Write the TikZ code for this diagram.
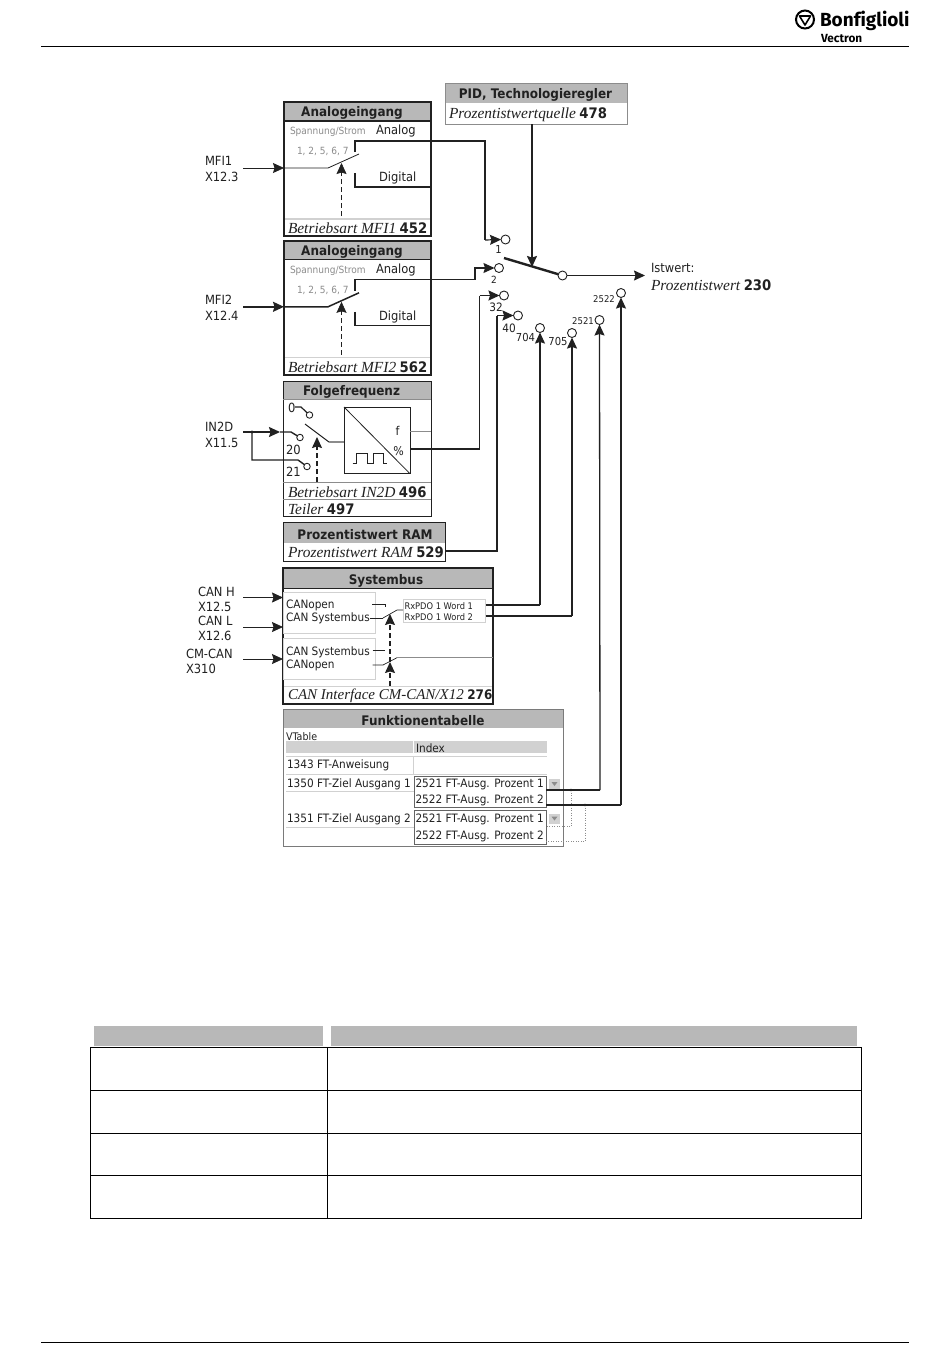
\documentclass[tikz,border=0pt]{standalone}
\usepackage{fontspec}
\setmainfont[Scale=1.1,FakeStretch=0.91]{DejaVu Sans}
\newfontfamily\tim{Liberation Serif}
\newfontfamily\logof{Fira Sans}
\usetikzlibrary{arrows.meta,calc}
\definecolor{hdr}{gray}{0.72}
\definecolor{ink}{gray}{0.13}
\definecolor{lite}{gray}{0.82}
\definecolor{mid}{gray}{0.55}
\newcounter{tn}
\newcommand\tl[4][]{\stepcounter{tn}\node[lbl,#1] (t\thetn) at (#2,#3) {#4};}
\newcommand\fs[1]{\fontsize{#1}{#1}\selectfont}
\newcommand\itt[1]{{\tim\itshape\fs{15.4}#1}}
\newcommand\nb[1]{{\bfseries\fs{13.2}#1}}
\tikzset{
 lbl/.style={anchor=west,inner sep=0pt,outer sep=0pt,text=ink,font=\fs{11},yshift=-.8pt},
 ctr/.style={anchor=center},
 box/.style={draw=ink,line width=1pt,anchor=north west,inner sep=0pt,outer sep=0pt},
 hbox/.style={box,line width=1.6pt},
 greybox/.style={draw=mid,line width=1pt,anchor=north west,inner sep=0pt,outer sep=0pt},
 head/.style={fill=hdr,draw=none,anchor=north west,inner sep=0pt,outer sep=0pt},
 title/.style={lbl,ctr,font=\bfseries\fs{12}},
 wire/.style={draw=ink,line width=1.2pt},
 fwire/.style={wire,line width=1.5pt},
 arr/.style={-{Stealth[length=11pt,width=10pt,inset=1.5pt]}},
 dsh/.style={draw=ink,line width=.8pt,dash pattern=on 5pt off 3pt},
 dot/.style={draw=mid,line width=.7pt,dash pattern=on 1pt off 1.5pt},
 term/.style={circle,draw=ink,line width=.9pt,fill=white,minimum size=9pt,inner sep=0pt,outer sep=0pt},
 sterm/.style={term,minimum size=6.5pt},
 rule/.style={draw=black,line width=.8pt},
 lrule/.style={draw=lite,line width=.8pt},
}
\begin{document}
\begin{tikzpicture}[x=1pt,y=-1pt]
\useasboundingbox (0,0) rectangle (950,1369);
\fill[white] (0,0) rectangle (950,1369);
% page furniture
\coordinate (r1a) at (41,46); \coordinate (r1b) at (909,46);
\coordinate (r2a) at (41,1342); \coordinate (r2b) at (909,1342);
\draw[rule] (r1a)--(r1b); \draw[rule] (r2a)--(r2b);
\node[circle,draw=black,line width=2pt,minimum size=18pt,inner sep=0pt] (logo) at (805,19.5) {};
\draw[black,line width=1.6pt,line join=round] (799.5,16) -- (810.5,16) -- (805,25) -- cycle;
\tl{820}{20}{\logof\bfseries\fs{19}\textcolor{black}{Bonf\kern0pt iglioli}}
\tl{821}{37.5}{\logof\bfseries\fs{11.8}\textcolor{black}{Vectron}}

% table at the bottom
\node[head,minimum width=229pt,minimum height=20pt] (th1) at (94,1026) {};
\node[head,minimum width=526pt,minimum height=20pt] (th2) at (331,1026) {};
\foreach \i/\a/\b in {1/1047/43,2/1090/43,3/1133/42,4/1175/43}{
 \node[draw=black,line width=1pt,anchor=north west,minimum width=237pt,minimum height=\b pt,inner sep=0pt,outer sep=0pt] (tc\i) at (90,\a) {};
 \node[draw=black,line width=1pt,anchor=north west,minimum width=534pt,minimum height=\b pt,inner sep=0pt,outer sep=0pt] (td\i) at (327,\a) {};
}

% PID
\node[greybox,minimum width=182pt,minimum height=41pt] (pid) at (445,83) {};
\node[head,minimum width=181pt,minimum height=19pt] (pidh) at (445.5,83.5) {};
\draw[mid,line width=1pt] (445,83)--(627,83);
\tl[title]{535.5}{93}{PID, Technologieregler}
\tl{449}{113.5}{\itt{Prozentistwertquelle} \nb{478}}

% terminals
\node[term] (c1) at (505.5,239.5) {};
\node[term] (c2) at (499,268) {};
\node[term] (c32) at (504,295.5) {};
\node[term] (c40) at (518,315.5) {};
\node[term] (c704) at (540,328) {};
\node[term] (c705) at (572,333) {};
\node[term] (c2521) at (599.5,320) {};
\node[term] (c2522) at (621,293) {};
\tl[ctr]{498.5}{249}{\fs{10}1}
\tl[ctr]{494}{279}{\fs{9}2}
\tl[ctr]{496}{306}{\fs{10.5}32}
\tl[ctr]{509}{327}{\fs{10.5}40}
\tl[ctr]{525.5}{337}{\fs{10}704}
\tl[ctr]{558}{341}{\fs{10}705}
\tl[ctr]{583}{320}{\fs{8.5}2521}
\tl[ctr]{604}{298}{\fs{8.5}2522}
% main switch
\coordinate (swa) at (504,258);
\node[term] (cout) at (562.5,275.5) {};
\draw[draw=ink,line width=2.4pt] (swa)--(cout);
\draw[fwire,line width=1.5pt,arr] (pid.south -| 532,0) -- (532,267);
\coordinate (ist) at (645,275.5);
\draw[wire,arr] (cout)--(ist);
\tl{651}{267}{\fs{11.5}Istwert:}
\tl{651}{284}{\itt{Prozentistwert} \nb{230}}

% Analogeingang 1 and 2
\foreach \n/\dy/\pn/\inp/\xp/\lw in {a/0/452/MFI1/X12.3/.8pt,b/138.8/562/MFI2/X12.4/1.5pt}{
 \begin{scope}[shift={(0,\dy)}]
 \node[hbox,minimum width=147pt,minimum height=134pt] (\n box) at (284,102) {};
 \node[head,minimum width=146pt,minimum height=19pt] (\n hd) at (284.5,102.5) {};
 \draw[ink,line width=1.6pt] (284,102) rectangle (431,236);
 \draw[ink,line width=1.2pt] (284,121)--(431,121);
 \draw[lite,line width=1.2pt] (285,219)--(430,219);
 \tl[title]{352}{111.5}{Analogeingang}
 \tl{290}{131}{\fs{9}\textcolor{mid}{Spannung/Strom}}
 \tl{376}{130.5}{\fs{11.5}Analog}
 \tl{297}{151}{\fs{9}\textcolor{mid}{1, 2, 5, 6, 7}}
 \tl{379}{177.5}{\fs{11.5}Digital}
 \tl{288}{227.5}{\itt{Betriebsart \inp} \nb{\pn}}
 \tl{205}{160}{\fs{11.5}\inp}
 \tl{205}{176}{\fs{11.5}\xp}
 \coordinate (\n in) at (243,168);
 \coordinate (\n sw) at (328,168);
 \coordinate (\n sx) at (359,154);
 \draw[wire,line width=\lw,arr] (\n in)--(284,168);
 \draw[wire,line width=\lw] (284,168)--(\n sw)--(\n sx);
 \draw[wire] (355,152)--(355,141)--(431,141);
 \draw[wire] (355,173)--(355,187)--(431,187);
 \coordinate (\n ds) at (341.5,216);
 \draw[dsh,arr,line width=.7pt] (\n ds)--(341.5,163);
 \end{scope}
}
\draw[wire] (431,141)--(485,141)--(485,240);
\draw[wire,arr] (485,240)--(c1.west);
\draw[wire,arr] (431,279.8)--(475,279.8)--(475,268)--(c2.west);

% Folgefrequenz
\node[box,minimum width=148pt,minimum height=135pt] (ff) at (283,381) {};
\node[head,minimum width=147pt,minimum height=18pt] (ffh) at (283.5,381.5) {};
\draw[ink,line width=1pt] (283,381) rectangle (431,516);
\draw[mid,line width=1pt] (283,399)--(431,399);
\draw[mid,line width=.7pt] (283,482.7)--(431,482.7);
\draw[mid,line width=.7pt] (283,499.7)--(431,499.7);
\tl[title]{351.5}{390.5}{Folgefrequenz}
\tl{288}{407.5}{\fs{11.5}0}
\tl{286}{449.5}{\fs{11.5}20}
\tl{286}{471}{\fs{11.5}21}
\node[sterm] (f0) at (309.5,415) {};
\node[sterm] (f20) at (300,437.5) {};
\node[sterm] (f21) at (307,466.5) {};
\draw[wire] (295,407)--(301,407)--(f0);
\node[draw=ink,line width=1pt,anchor=north west,minimum width=66pt,minimum height=66.7pt,inner sep=0pt,outer sep=0pt] (conv) at (344,407) {};
\draw[ink,line width=.8pt] (conv.north west)--(conv.south east);
\draw[ink,line width=1pt] (352.5,463.5)--(356,463.5)--(356,453.5)--(367,453.5)--(367,463.5)--(373,463.5)--(373,453.5)--(383.5,453.5)--(383.5,463.5)--(387,463.5);
\tl[ctr]{397.5}{430}{\fs{11}f}
\tl[ctr]{398.5}{450}{\fs{11}\%}
\coordinate (fsw1) at (305,424);
\coordinate (fsw2) at (329,442);
\draw[wire,line width=1pt] (fsw1)--(fsw2);
\draw[mid,line width=1.5pt] (fsw2)--(conv.west |- fsw2);
\tl{288}{491}{\itt{Betriebsart IN2D} \nb{496}}
\tl{288}{508}{\itt{Teiler} \nb{497}}
\tl{205}{426}{\fs{11.5}IN2D}
\tl{205}{442}{\fs{11.5}X11.5}
\coordinate (inin) at (243,432);
\coordinate (inj) at (252,432);
\fill[ink] (inj) circle (1.6pt);
\draw[wire,line width=1.4pt,arr] (inin)--(280,432);
\draw[wire,line width=1.4pt] (280,432)--(291,432)--(f20);
\draw[wire,line width=1.4pt] (inj)--(252,460)--(298,460)--(f21);
\coordinate (fds) at (317,482);
\draw[dsh,arr,line width=1.1pt] (fds)--(317,437);
\draw[mid,line width=1.5pt] (410,431.3)--(431,431.3);
\draw[fwire] (conv.east |- 0,449)--(479.5,449)--(479.5,295.5);
\draw[fwire,arr] (479.5,295.5)--(c32.west);

% Prozentistwert RAM
\node[box,minimum width=162pt,minimum height=38.5pt] (ram) at (283,522.7) {};
\node[head,minimum width=161pt,minimum height=20pt] (ramh) at (283.5,523.2) {};
\draw[ink,line width=1pt] (283,522.7) rectangle (445,561);
\tl[title]{365}{533}{Prozentistwert RAM}
\tl{288}{551.5}{\itt{Prozentistwert RAM} \nb{529}}
\draw[fwire] (ram.east |- 0,551)--(497,551)--(497,315.5);
\draw[fwire,arr] (497,315.5)--(c40.west);

% Systembus
\node[box,minimum width=210pt,minimum height=136pt] (sys) at (283,568) {};
\node[head,minimum width=209pt,minimum height=20pt] (sysh) at (283.5,568.5) {};
\draw[ink,line width=1.6pt] (283,568) rectangle (493,704);
\draw[ink,line width=1pt] (283,588)--(493,588);
\draw[lite,line width=1pt] (284,686.7)--(492,686.7);
\tl[title]{386}{579}{Systembus}
\node[draw=lite,line width=.9pt,anchor=north west,minimum width=92pt,minimum height=40.7pt,inner sep=0pt] (cb1) at (283,592) {};
\node[draw=lite,line width=.9pt,anchor=north west,minimum width=92pt,minimum height=41.3pt,inner sep=0pt] (cb2) at (283,638) {};
\tl{286}{605}{\fs{10.5}CANopen}
\tl{286}{618}{\fs{10.5}CAN Systembus}
\tl{286}{651.5}{\fs{10.5}CAN Systembus}
\tl{286}{664.5}{\fs{10.5}CANopen}
\node[draw=lite,line width=.9pt,anchor=north west,minimum width=82.7pt,minimum height=23pt,inner sep=0pt,outer sep=0pt] (rx) at (403,599) {};
\tl{404.5}{605.5}{\fs{8.3}RxPDO 1 Word 1}
\tl{404.5}{616.5}{\fs{8.3}RxPDO 1 Word 2}
\draw[wire,line width=.7pt] (372,604)--(385,604)--(385,607);
\draw[wire,line width=.7pt] (370,618)--(383,618);
\draw[wire,line width=.7pt] (383,618)--(397,610)--(403,610);
\draw[wire,line width=.7pt] (372.7,650.7)--(385,650.7);
\draw[wire,line width=.7pt] (372.7,665)--(383,665)--(397,657.7);
\draw[mid,line width=.7pt] (397,657.7)--(493,657.7);
\coordinate (sd1) at (390,686);
\coordinate (sd2) at (390,670);
\draw[dsh,arr,line width=1.1pt] (sd1)--(390,662);
\draw[dsh,arr,line width=1.1pt] (sd2)--(390,614);
\tl{288}{695}{{\tim\itshape\fs{15}CAN Interface CM-CAN/X12} {\bfseries\fs{12}276}}
\tl{198}{591}{\fs{11.5}CAN H}
\tl{198}{606}{\fs{11.5}X12.5}
\tl{198}{620.5}{\fs{11.5}CAN L}
\tl{198}{635}{\fs{11.5}X12.6}
\tl{186}{653}{\fs{11.5}CM-CAN}
\tl{186}{668}{\fs{11.5}X310}
\coordinate (ci1) at (243,597.5); \coordinate (ci2) at (243,627); \coordinate (ci3) at (243,659);
\draw[wire,line width=.8pt,arr] (ci1)--(283,597.5);
\draw[wire,line width=.8pt,arr] (ci2)--(283,627);
\draw[wire,line width=.8pt,arr] (ci3)--(283,659);
\draw[wire] (rx.east |- 0,605)--(540,605);
\draw[wire,arr] (540,605)--(c704.south);
\draw[wire] (rx.east |- 0,616)--(572,616);
\draw[wire,line width=1.4pt,arr] (572,616)--(c705.south);

% Funktionentabelle
\node[greybox,draw=ink!60,minimum width=280pt,minimum height=137.5pt] (ft) at (283,709.3) {};
\node[head,minimum width=279pt,minimum height=18.5pt] (fth) at (283.5,709.8) {};
\tl[title]{423}{719}{Funktionentabelle}
\tl{286}{735.5}{\fs{9.5}VTable}
\node[head,fill=lite,minimum width=260.7pt,minimum height=12.6pt] (fti) at (286,740.7) {};
\draw[white,line width=1pt] (413.5,740.7)--(413.5,753.3);
\tl{416}{747.5}{\fs{10.5}Index}
\draw[lrule] (286,756)--(547,756);
\draw[lrule] (286,774)--(547,774);
\draw[lrule] (413.5,756)--(413.5,774);
\draw[lrule] (286,791.5)--(413.5,791.5);
\draw[lrule] (286,827)--(413.5,827);
\tl{287}{764.5}{\fs{10.5}1343 FT-Anweisung}
\tl{287}{783.5}{\fs{10.5}1350 FT-Ziel Ausgang 1}
\tl{287}{818.5}{\fs{10.5}1351 FT-Ziel Ausgang 2}
\node[draw=ink!70,line width=.8pt,anchor=north west,minimum width=132pt,minimum height=31.3pt,inner sep=0pt,outer sep=0pt] (cmb1) at (414.3,776) {};
\node[draw=ink!70,line width=.8pt,anchor=north west,minimum width=132pt,minimum height=33.3pt,inner sep=0pt,outer sep=0pt] (cmb2) at (414.3,810.7) {};
\tl{415.5}{783.5}{\fs{10.5}2521 FT-Ausg. Prozent 1}
\tl{415.5}{800}{\fs{10.5}2522 FT-Ausg. Prozent 2}
\tl{415.5}{818.5}{\fs{10.5}2521 FT-Ausg. Prozent 1}
\tl{415.5}{835.5}{\fs{10.5}2522 FT-Ausg. Prozent 2}
\foreach \yy in {784,818.5}{
 \fill[lite] (549,\yy-5) rectangle (560,\yy+5);
 \fill[mid] (551.5,\yy-2) -- (557.5,\yy-2) -- (554.5,\yy+2) -- cycle;
}
\draw[dot] (571,790)--(571,826.7)--(546,826.7);
\draw[dot] (585,805)--(585,841.7)--(546,841.7);
\fill[ink] (571,790) circle (1.3pt);
\fill[ink] (585,805) circle (1.3pt);
\draw[wire] (cmb1.east |- 0,790)--(600,790);
\draw[wire,line width=1.3pt,arr] (600,790)--(c2521.south);
\draw[wire] (cmb1.east |- 0,805)--(621,805);
\draw[wire,line width=1.3pt,arr] (621,805)--(c2522.south);
\end{tikzpicture}
\end{document}
